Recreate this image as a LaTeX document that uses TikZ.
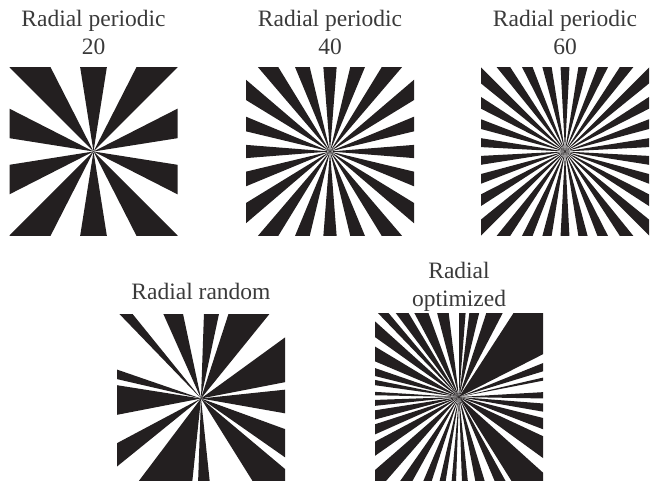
\documentclass[tikz,border=0pt]{standalone}
\usepackage{fontspec}
\setmainfont{Liberation Serif}
\usetikzlibrary{positioning}

\definecolor{tinta}{HTML}{231F20}
\definecolor{rotulo}{HTML}{3A3A3A}

\tikzset{
  cuna/.style={fill=tinta},
  rotulo/.style={text=rotulo, inner sep=0pt, align=center, anchor=base,
    font=\fontsize{23.5}{27.6}\selectfont}
}

% estrella radial periodica: #1 cunas negras, una centrada en 90 grados
\newcommand{\estrellaper}[1]{%
  \pgfmathsetmacro{\per}{360/#1}
  \foreach \k in {1,...,#1}{
    \fill[cuna] (0,0) -- ({90+(\k-0.25)*\per}:300pt) -- ({90+(\k+0.25)*\per}:300pt) -- cycle;}}

\begin{document}
\begin{tikzpicture}[x=1pt,y=1pt]
            % marco de la figura
            \clip (0,0) rectangle (651,480);

            % Radial periodica 20, 40 y 60
            \foreach \cx/\n/\nom in {93.5/10/per20, 330/20/per40, 565/30/per60}{
              \begin{scope}[shift={(\cx,328.5)}]
                \clip (-84,-84) rectangle (84,84);
                \estrellaper{\n}
              \end{scope}
            }
            % (anchor=base toma la ultima linea)
            \node[rotulo] (t20) at (93.5,425.7) {Radial periodic\\20};
            \node[rotulo] (t40) at (330,425.7) {Radial periodic\\40};
            \node[rotulo] (t60) at (565,425.7) {Radial periodic\\60};

            % Radial aleatoria
            \begin{scope}[shift={(201,81.5)}]
              \clip (-84,-84) rectangle (84,84);
              \foreach \a/\b in {129/134, 102/114, 78/88, 51/72, 11/36, -10/6,
                -35/-20, -58/-40, -92/-84, 233/264, 208/219, 171/191, 161/167}
                \fill[cuna] (0,0) -- (\a:300pt) -- (\b:300pt) -- cycle;
            \end{scope}
            \node[rotulo] (tal) at (201,180) {Radial random};

            % Radial optimizada
            \begin{scope}[shift={(459,83)}]
              \clip (-84,-84) rectangle (84,84);
              \foreach \a/\b in {130/134, 121/127, 110/118, 97/104.6, 85.5/90,
                76.5/83, 62.5/72, 27/57, 17/22, 11/13, -1/3.3, -9.9/-4.4,
                -21/-14, -36/-25, -58/-42, 138/144.5, 149/157, 161/166,
                168.5/172, 176.5/178.8, 182/186, 189/195, 198/204, 208/215,
                221/229, 235/241, 247/252, 257/261, 265/268, 272/276,
                281/287, 293/299}
                \fill[cuna] (0,0) -- (\a:300pt) -- (\b:300pt) -- cycle;
            \end{scope}
            \node[rotulo] (top) at (459,174) {Radial\\optimized};
        \end{tikzpicture}
\end{document}
